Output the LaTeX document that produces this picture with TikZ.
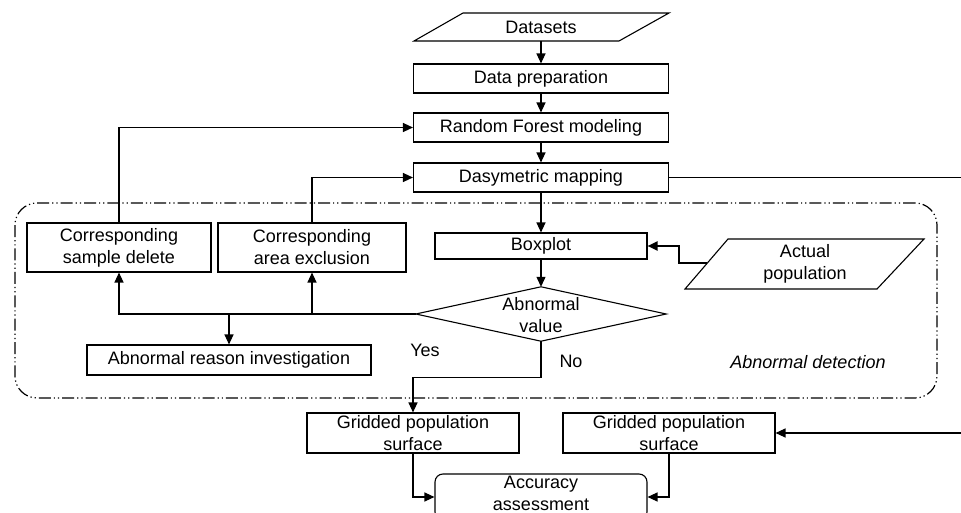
\documentclass[tikz,border=0pt]{standalone}
\usepackage{fontspec}
\setmainfont{Liberation Sans}
\usetikzlibrary{arrows.meta,calc}
\tikzset{
  x=1pt,y=-1pt,
  every node/.style={font=\fontsize{18}{22}\selectfont},
  boxn/.style={draw,line width=1.1pt,inner sep=0pt,align=center},
  plain/.style={inner sep=0pt,align=center},
  shp/.style={line width=1.1pt},
  arr/.style={line width=1.2pt,-{Triangle[length=10pt,width=9pt]}},
  lin/.style={line width=1.2pt},
  frame/.style={line width=1.2pt,dash pattern=on 12pt off 3pt on 1.2pt off 3pt on 1.2pt off 3pt},
}
\begin{document}
\begin{tikzpicture}
\clip (0,0) rectangle (961,513);
\fill[white] (0,0) rectangle (961,513);
% frame
\node[frame,draw,rounded corners=22pt,minimum width=922pt,minimum height=195pt,inner sep=0pt] (fr) at (476,300.5) {};
\node[plain,font=\fontsize{18}{22}\selectfont\itshape] (lbl) at (808,362) {Abnormal detection};
% datasets
\node[plain,minimum width=150pt,minimum height=28pt] (ds) at (541,27) {Datasets};
\draw[shp] (414,41) -- (463,13) -- (669,13) -- (619,41) -- cycle;
\node[boxn,minimum width=255pt,minimum height=29pt] (dp) at (541,78.5) {Data preparation};
\node[boxn,minimum width=255pt,minimum height=29pt] (rf) at (541,127.5) {Random Forest modeling};
\node[boxn,minimum width=255pt,minimum height=29pt] (dm) at (541,177.5) {Dasymetric mapping};
\node[boxn,minimum width=184pt,minimum height=49pt] (sd) at (119,247.5) {Corresponding\\sample delete};
\node[boxn,minimum width=188pt,minimum height=49pt] (ae) at (312,247.5) {Corresponding\\area exclusion};
\node[boxn,minimum width=212pt,minimum height=26pt] (bp) at (541,246) {Boxplot};
% actual population
\node[plain,minimum width=150pt,minimum height=50pt] (ap) at (805,264) {Actual\\population};
\draw[shp] (685,289) -- (728,239) -- (924,239) -- (877,289) -- cycle;
\coordinate (apl) at (707,263);
% diamond
\node[plain,minimum width=250pt,minimum height=54pt] (dia) at (541,314) {};
\node[plain] (diat) at (541,315) {Abnormal\\value};
\draw[shp] (dia.north) -- (dia.east) -- (dia.south) -- (dia.west) -- cycle;
\node[boxn,minimum width=284pt,minimum height=30pt] (ri) at (229,360) {Abnormal reason investigation};
\node[plain] (yes) at (425,350) {Yes};
\node[plain] (no) at (571,361) {No};
\node[boxn,minimum width=212pt,minimum height=40pt] (g1) at (413,433) {Gridded population\\surface};
\node[boxn,minimum width=212pt,minimum height=40pt] (g2) at (669,433) {Gridded population\\surface};
\node[boxn,rounded corners=8pt,minimum width=212pt,minimum height=46pt] (acc) at (541,497) {};
\node[plain] (acct) at (541,493.5) {Accuracy\\assessment};
% connectors
\draw[arr] (ds.south) -- (dp.north);
\draw[arr] (dp.south) -- (rf.north);
\draw[arr] (rf.south) -- (dm.north);
\draw[arr] (dm.south) -- (bp.north);
\draw[arr] (bp.south) -- (dia.north);
\draw[arr,line width=2pt] (apl) -- ++(-28,0) |- (bp.east);
\draw[arr] (dia.west) -| (sd.south);
\coordinate (j1) at (ae.south |- dia.west);
\coordinate (j2) at (ri.north |- dia.west);
\draw[arr] (j1) -- (ae.south);
\draw[arr] (j2) -- (ri.north);
\draw[arr] (sd.north) |- (rf.west);
\draw[arr] (ae.north) |- (dm.west);
\draw[arr] (dia.south) -- ++(0,36) -| (g1.north);
\draw[arr] (g1.south) |- (acc.west);
\draw[arr] (g2.south) |- (acc.east);
\draw[arr] (dm.east) -- (985,177.5) |- (g2.east);
\end{tikzpicture}
\end{document}
